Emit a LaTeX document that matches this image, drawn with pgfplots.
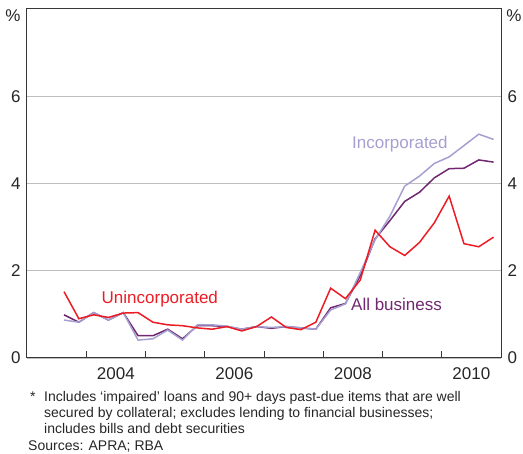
\documentclass[border=0pt]{standalone}
\usepackage{pgfplots}
\usepackage{pgfplotstable}
\pgfplotsset{compat=1.18}
\usepackage{fontspec}
\setmainfont{Liberation Sans}
\definecolor{rbared}{RGB}{237,28,36}
\definecolor{rbapurple}{RGB}{112,40,112}
\definecolor{rbalav}{RGB}{165,160,208}
\definecolor{axgray}{RGB}{55,55,55}
\definecolor{gridgray}{RGB}{190,190,190}

\pgfplotstableread{
x unc all inc
2003.625 1.52 0.99 0.87
2003.875 0.90 0.82 0.82
2004.125 0.99 1.04 1.04
2004.375 0.93 0.87 0.87
2004.625 1.03 1.04 1.04
2004.875 1.04 0.51 0.41
2005.125 0.82 0.51 0.44
2005.375 0.76 0.66 0.64
2005.625 0.74 0.44 0.41
2005.875 0.69 0.74 0.76
2006.125 0.66 0.74 0.76
2006.375 0.72 0.72 0.73
2006.625 0.62 0.66 0.66
2006.875 0.72 0.72 0.72
2007.125 0.94 0.68 0.70
2007.375 0.70 0.72 0.72
2007.625 0.65 0.69 0.69
2007.875 0.82 0.66 0.66
2008.125 1.60 1.15 1.10
2008.375 1.36 1.25 1.24
2008.625 1.79 1.89 1.96
2008.875 2.93 2.73 2.71
2009.125 2.55 3.15 3.25
2009.375 2.35 3.59 3.94
2009.625 2.65 3.80 4.17
2009.875 3.10 4.13 4.46
2010.125 3.71 4.34 4.61
2010.375 2.62 4.35 4.87
2010.625 2.55 4.54 5.13
2010.875 2.77 4.49 5.01
}\datatable

\begin{document}
\begin{tikzpicture}
\pgfplotsset{
  common/.style={
    at={(0,0)}, anchor=south west, scale only axis,
    width=474pt, height=349pt,
    xmin=2003, xmax=2011, ymin=0, ymax=8,
    ytick={0,2,4,6},
    tick label style={font=\fontsize{17}{20}\selectfont, text=black!85},
    /pgf/number format/assume math mode=true,
    major tick length=0pt,
    axis line style={axgray, line width=1pt},
  }
}
\begin{axis}[common,
  ymajorgrids, grid style={gridgray, line width=0.8pt},
  xtick={2004.5,2006.5,2008.5,2010.5},
  xticklabels={2004,2006,2008,2010},
  minor xtick={2004,2005,2006,2007,2008,2009,2010},
  minor tick length=7pt, tick align=inside,
  xtick pos=bottom, ytick pos=left,
  minor tick style={axgray, line width=0.9pt},
  xticklabel style={yshift=-6pt},
  yticklabel style={xshift=-3pt},
]
\addplot[rbapurple, line width=1.5pt] table[x=x, y=all] {\datatable};
\addplot[rbalav, line width=1.5pt] table[x=x, y=inc] {\datatable};
\addplot[rbared, line width=1.5pt] table[x=x, y=unc] {\datatable};
\end{axis}
\begin{axis}[common,
  hide x axis, axis y line*=right,
  yticklabel pos=right,
  yticklabel style={xshift=3pt},
]
\end{axis}

\node[font=\fontsize{17}{20}\selectfont, text=black!85] at (-14pt,342pt) {\%};
\node[font=\fontsize{17}{20}\selectfont, text=black!85] at (487pt,342pt) {\%};

\node[font=\fontsize{17}{20}\selectfont, text=rbared, anchor=base west, inner sep=0pt] at (74.5pt,54.5pt) {Unincorporated};
\node[font=\fontsize{17}{20}\selectfont, text=rbalav, anchor=base west, inner sep=0pt] at (325pt,209.5pt) {Incorporated};
\node[font=\fontsize{17}{20}\selectfont, text=rbapurple, anchor=base west, inner sep=0pt] at (324pt,47.5pt) {All business};

\begin{scope}[every node/.style={font=\fontsize{14}{16}\selectfont, text=black!85, anchor=base west, inner sep=0pt}]
\node at (3pt,-44pt) {*};
\node at (17pt,-44pt) {Includes ‘impaired’ loans and 90+ days past-due items that are well};
\node at (17pt,-60pt) {secured by collateral; excludes lending to financial businesses;};
\node at (17pt,-76pt) {includes bills and debt securities};
\node at (1pt,-93pt) {Sources: APRA; RBA};
\end{scope}

\pgfresetboundingbox
\path (-27pt,-96pt) rectangle (496pt,358pt);
\end{tikzpicture}
\end{document}
